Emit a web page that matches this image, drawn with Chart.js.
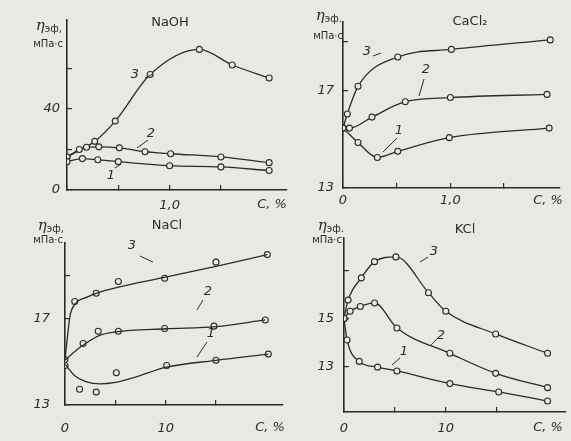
<!DOCTYPE html>
<html>
<head>
<meta charset="utf-8">
<script src="https://cdn.jsdelivr.net/npm/chart.js@4.4.0/dist/chart.umd.min.js"></script>
<style>
  body { margin: 0; background: #e9e9e4; width: 571px; height: 441px; overflow: hidden; position: relative; }
  canvas { position: absolute; }
</style>
</head>
<body>
<canvas id="naoh"></canvas>
<canvas id="cacl2"></canvas>
<canvas id="nacl"></canvas>
<canvas id="kcl"></canvas>
<script>
// --- NaOH: curves 1, 2, 3 (C, % -> η, мПа·с)
const naoh1x = [0, 0.15, 0.3, 0.5, 1.0, 1.5, 1.97];
const naoh1y = [14, 15.5, 14.9, 14.0, 12, 11.4, 9.6];
const naoh2x = [0, 0.12, 0.19, 0.31, 0.51, 0.76, 1.01, 1.5, 1.97];
const naoh2y = [16.3, 20, 21.1, 21.3, 20.8, 18.9, 17.9, 16.3, 13.5];
const naoh3x = [0, 0.27, 0.47, 0.81, 1.29, 1.61, 1.97];
const naoh3y = [16.3, 24, 34, 57, 69.4, 61.7, 55.3];

// --- CaCl2
const cacl1x = [0, 0.14, 0.32, 0.51, 0.99, 1.92];
const cacl1y = [15.45, 14.86, 14.25, 14.5, 15.06, 15.45];
const cacl2x = [0, 0.06, 0.27, 0.58, 1.0, 1.9];
const cacl2y = [15.45, 15.45, 15.9, 16.53, 16.7, 16.83];
const cacl3x = [0, 0.04, 0.14, 0.51, 1.01, 1.93];
const cacl3y = [15.45, 16.03, 17.16, 18.36, 18.67, 19.06];

// --- NaCl: measured points and drawn curves
const nacl1x = [0, 1.45, 3.1, 5.1, 10.1, 15, 20.2];
const nacl1y = [14.84, 13.73, 13.6, 14.5, 14.84, 15.08, 15.37];
const nacl2x = [0, 1.8, 3.3, 5.3, 9.9, 14.8, 19.9];
const nacl2y = [15.12, 15.86, 16.43, 16.43, 16.56, 16.67, 16.96];
const nacl3x = [0.97, 3.1, 5.3, 9.9, 15, 20.1];
const nacl3y = [17.82, 18.2, 18.75, 18.9, 19.65, 20.0];
const naclFit1x = [0, 1, 2, 3.5, 5, 7, 10, 15, 20.2];
const naclFit1y = [14.9, 14.35, 14.1, 13.98, 14.05, 14.3, 14.75, 15.08, 15.37];
const naclFit2x = [0, 1, 2, 3.5, 5, 10, 15, 19.9];
const naclFit2y = [15.08, 15.5, 15.85, 16.25, 16.4, 16.55, 16.65, 16.96];
const naclFit3x = [0, 0.25, 0.5, 1, 2.2, 3.1, 10, 15, 20.1];
const naclFit3y = [15.1, 16.2, 17.15, 17.7, 18.02, 18.2, 18.95, 19.45, 20.0];

// --- KCl
const kcl1x = [0, 0.3, 1.5, 3.3, 5.2, 10.4, 15.2, 20];
const kcl1y = [15, 14.1, 13.2, 12.96, 12.8, 12.27, 11.92, 11.54];
const kcl2x = [0, 0.6, 1.6, 3.0, 5.2, 10.4, 14.9, 20];
const kcl2y = [15, 15.3, 15.5, 15.65, 14.6, 13.54, 12.7, 12.1];
const kcl3x = [0, 0.4, 1.7, 3.0, 5.1, 8.3, 10, 14.9, 20];
const kcl3y = [15, 15.77, 16.7, 17.38, 17.58, 16.08, 15.3, 14.35, 13.54];

// tick values and their printed labels
const naohXTicks = [0, 0.5, 1.0, 1.5];
const naohXLabels = { 1: '1,0' };
const naohYTicks = [0, 20, 40, 60];
const naohYLabels = { 0: '0', 40: '40' };
const caclXTicks = [0, 0.5, 1.0, 1.5];
const caclXLabels = { 0: '0', 1: '1,0' };
const caclYTicks = [13, 17, 19];
const caclYLabels = { 13: '13', 17: '17' };
const naclXTicks = [0, 5, 10, 15];
const naclXLabels = { 0: '0', 10: '10' };
const naclYTicks = [13, 17, 19];
const naclYLabels = { 13: '13', 17: '17' };
const kclXTicks = [0, 5, 10, 15];
const kclXLabels = { 0: '0', 10: '10' };
const kclYTicks = [13, 15, 17];
const kclYLabels = { 13: '13', 15: '15' };

const INK = '#2b2b2b';
const PAPER = '#e9e9e4';
const TICKFONT = { family: '"DejaVu Sans"', size: 13, style: 'italic' };

function pts(xs, ys) {
  return xs.map((x, i) => ({ x: x, y: ys[i] }));
}

// line through the points, points drawn as open circles
function curve(xs, ys, extra) {
  return Object.assign({
    data: pts(xs, ys),
    borderColor: INK,
    borderWidth: 1.3,
    pointRadius: 3,
    pointBorderWidth: 1.1,
    pointBorderColor: INK,
    pointBackgroundColor: PAPER,
    cubicInterpolationMode: 'monotone',
    fill: false,
    showLine: true
  }, extra || {});
}

// texts and leader lines, given in page coordinates
function notes(p) {
  return {
    id: 'notes',
    afterDraw(chart) {
      const ctx = chart.ctx;
      ctx.save();
      ctx.translate(-p.left, -p.top);
      ctx.fillStyle = INK;
      ctx.strokeStyle = INK;
      ctx.lineWidth = 1;
      ctx.textBaseline = 'middle';
      // title
      ctx.textAlign = 'center';
      ctx.font = '13px "DejaVu Sans"';
      ctx.fillText(p.title, p.titleAt[0], p.titleAt[1]);
      // η эф
      ctx.textAlign = 'left';
      ctx.font = 'italic 15px "DejaVu Serif"';
      const w1 = ctx.measureText('η').width;
      ctx.font = '10px "DejaVu Sans"';
      const w2 = ctx.measureText(p.etaSub).width;
      const x0 = p.etaAt[0] - w1 - w2;
      ctx.font = 'italic 15px "DejaVu Serif"';
      ctx.fillText('η', x0, p.etaAt[1]);
      ctx.font = '10px "DejaVu Sans"';
      ctx.fillText(p.etaSub, x0 + w1, p.etaAt[1] + 3);
      ctx.textAlign = 'right';
      ctx.font = '10px "DejaVu Sans"';
      ctx.fillText('мПа·с', p.unitAt[0], p.unitAt[1]);
      // axis name
      ctx.textAlign = 'center';
      ctx.font = 'italic 13px "DejaVu Sans"';
      ctx.fillText('C, %', p.cAt[0], p.cAt[1]);
      // curve numbers
      ctx.font = 'italic 13px "DejaVu Sans"';
      p.nums.forEach(n => ctx.fillText(n[0], n[1], n[2]));
      ctx.beginPath();
      p.leaders.forEach(l => { ctx.moveTo(l[0], l[1]); ctx.lineTo(l[2], l[3]); });
      ctx.stroke();
      ctx.restore();
    }
  };
}

function panel(id, p) {
  const cv = document.getElementById(id);
  cv.width = p.w;
  cv.height = p.h;
  cv.style.left = p.left + 'px';
  cv.style.top = p.top + 'px';
  return new Chart(cv, {
    type: 'line',
    data: { datasets: p.datasets },
    options: {
      responsive: false,
      animation: false,
      events: [],
      layout: { padding: { top: p.padTop, right: 0, left: 0, bottom: 0 } },
      plugins: { legend: { display: false }, tooltip: { enabled: false } },
      scales: {
        x: {
          type: 'linear',
          min: p.xMin, max: p.xMax,
          afterFit: s => { s.height = p.xH; },
          afterBuildTicks: s => { s.ticks = p.xTicks.map(v => ({ value: v })); },
          ticks: {
            callback: v => p.xLabels[v] || '',
            color: INK, font: TICKFONT, padding: p.xPad,
            maxRotation: 0, autoSkip: false
          },
          grid: { drawOnChartArea: false, color: INK, tickLength: -5, lineWidth: 1.2 },
          border: { color: INK, width: 1.6 }
        },
        y: {
          type: 'linear',
          min: p.yMin, max: p.yMax,
          afterFit: s => { s.width = p.yW; },
          afterBuildTicks: s => { s.ticks = p.yTicks.map(v => ({ value: v })); },
          ticks: {
            callback: v => p.yLabels[v] || '',
            color: INK, font: TICKFONT, padding: p.yPad, autoSkip: false
          },
          grid: { drawOnChartArea: false, color: INK, tickLength: -5, lineWidth: 1.2 },
          border: { color: INK, width: 1.6 }
        }
      }
    },
    plugins: [notes(p)]
  });
}

panel('naoh', {
  left: 0, top: 0, w: 292, h: 215, yW: 67, xH: 25, padTop: 15,
  xMin: 0, xMax: 2.143, yMin: 0, yMax: 84,
  xTicks: naohXTicks, xLabels: naohXLabels, yTicks: naohYTicks, yLabels: naohYLabels,
  xPad: 13, yPad: 12,
  datasets: [curve(naoh1x, naoh1y), curve(naoh2x, naoh2y), curve(naoh3x, naoh3y)],
  title: 'NaOH', titleAt: [170, 23],
  etaSub: 'эф,', etaAt: [62, 26], unitAt: [63, 44],
  cAt: [272, 205],
  nums: [['3', 135, 75], ['2', 151, 134], ['1', 111, 176]],
  leaders: [[145, 78, 153, 74], [148, 140, 137, 148], [115, 168, 121, 164]]
});

panel('cacl2', {
  left: 290, top: 0, w: 275, h: 215, yW: 53, xH: 27, padTop: 13,
  xMin: 0, xMax: 2.02, yMin: 13, yMax: 19.8,
  xTicks: caclXTicks, xLabels: caclXLabels, yTicks: caclYTicks, yLabels: caclYLabels,
  xPad: 10, yPad: 14,
  datasets: [curve(cacl1x, cacl1y), curve(cacl2x, cacl2y), curve(cacl3x, cacl3y)],
  title: 'CaCl₂', titleAt: [470, 22],
  etaSub: 'эф.', etaAt: [342, 16], unitAt: [343, 36],
  cAt: [548, 201],
  nums: [['3', 367, 52], ['2', 426, 70], ['1', 399, 131]],
  leaders: [[373, 56, 381, 53], [424, 79, 419, 96], [397, 138, 383, 152]]
});

panel('nacl', {
  left: 0, top: 215, w: 288, h: 226, yW: 65, xH: 36, padTop: 5,
  xMin: 0, xMax: 21.65, yMin: 13, yMax: 20.55,
  xTicks: naclXTicks, xLabels: naclXLabels, yTicks: naclYTicks, yLabels: naclYLabels,
  xPad: 21, yPad: 20,
  datasets: [
    curve(naclFit1x, naclFit1y, { pointRadius: 0 }),
    curve(naclFit2x, naclFit2y, { pointRadius: 0 }),
    curve(naclFit3x, naclFit3y, { pointRadius: 0 }),
    curve(nacl1x, nacl1y, { showLine: false }),
    curve(nacl2x, nacl2y, { showLine: false }),
    curve(nacl3x, nacl3y, { showLine: false })
  ],
  title: 'NaCl', titleAt: [167, 226],
  etaSub: 'эф,', etaAt: [64, 226], unitAt: [63, 240],
  cAt: [270, 428],
  nums: [['3', 132, 246], ['2', 208, 292], ['1', 211, 334]],
  leaders: [[140, 256, 153, 262], [203, 300, 197, 310], [207, 342, 197, 357]]
});

panel('kcl', {
  left: 290, top: 215, w: 281, h: 226, yW: 54, xH: 29, padTop: 7,
  xMin: 0, xMax: 21.8, yMin: 11.08, yMax: 18.38,
  xTicks: kclXTicks, xLabels: kclXLabels, yTicks: kclYTicks, yLabels: kclYLabels,
  xPad: 14, yPad: 15,
  datasets: [curve(kcl1x, kcl1y), curve(kcl2x, kcl2y), curve(kcl3x, kcl3y)],
  title: 'KCl', titleAt: [465, 230],
  etaSub: 'эф.', etaAt: [344, 226], unitAt: [342, 240],
  cAt: [548, 428],
  nums: [['3', 434, 252], ['2', 441, 336], ['1', 404, 352]],
  leaders: [[428, 257, 420, 262], [437, 339, 431, 345], [400, 358, 392, 365]]
});
</script>
</body>
</html>
